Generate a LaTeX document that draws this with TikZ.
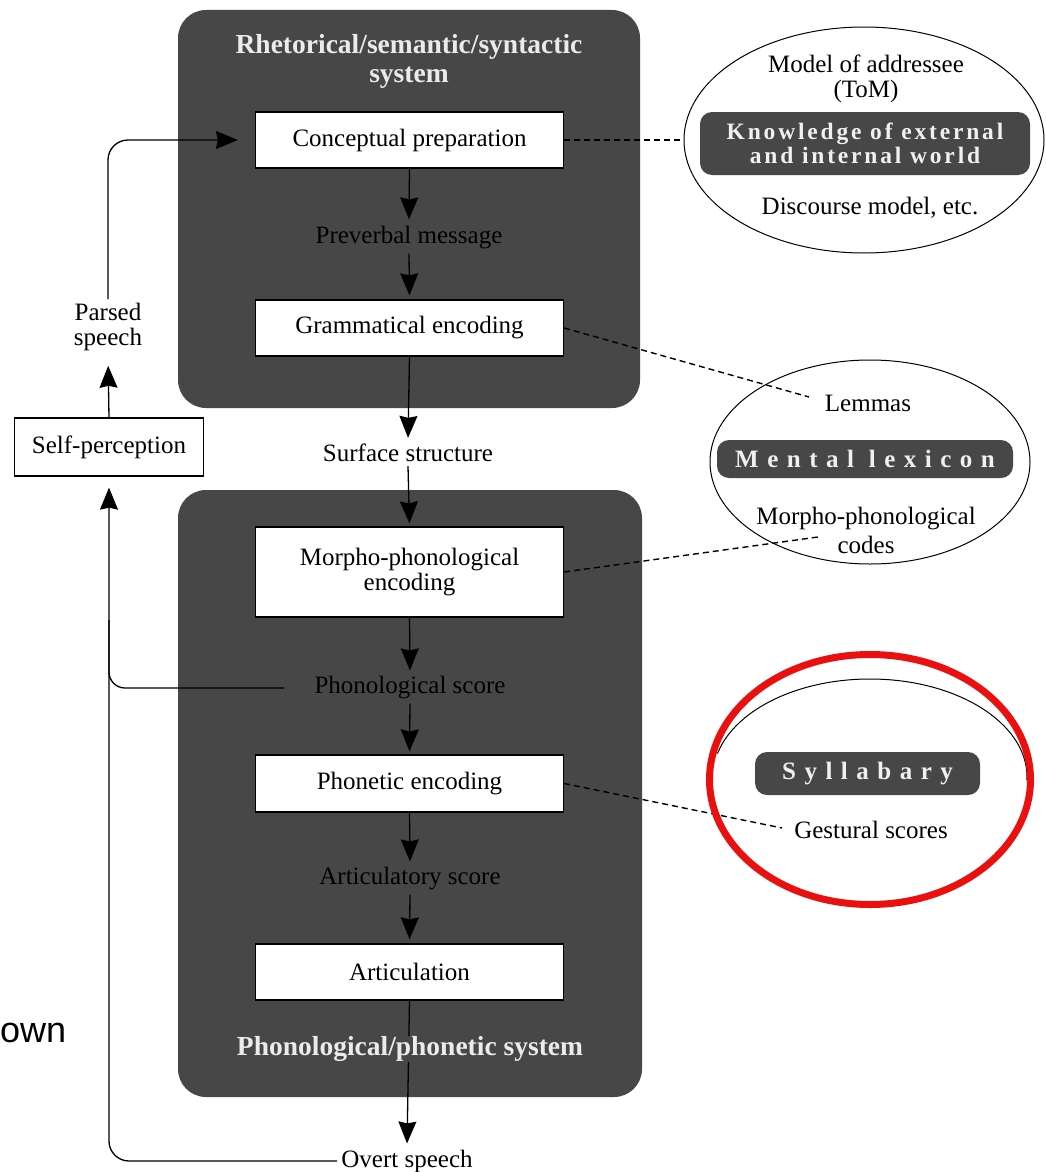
\documentclass[tikz,border=0pt]{standalone}
\usepackage{fontspec}
\setmainfont{Liberation Serif}
\newfontfamily\sansf{Liberation Sans}
\newfontfamily\wideK[LetterSpace=12]{Liberation Serif}
\newfontfamily\wideM[LetterSpace=34]{Liberation Serif}
\usetikzlibrary{shapes.geometric,arrows.meta,calc}
\definecolor{panelgray}{gray}{0.28}
\definecolor{chipgray}{gray}{0.28}
\definecolor{hlred}{RGB}{235,16,16}
\tikzset{
  panelbox/.style={fill=panelgray, rounded corners=28pt, inner sep=0pt},
  procbox/.style={draw=black, line width=1.3pt, fill=white, minimum width=308pt, inner sep=0pt, align=center, font=\fontsize{25}{25.5}\selectfont},
  lbl/.style={inner sep=4pt, align=center, font=\fontsize{25}{24.5}\selectfont},
  paneltitle/.style={inner sep=0pt, align=center, text=white!92!black, font=\bfseries\fontsize{27.5}{29}\selectfont},
  chip/.style={fill=chipgray, rounded corners=12pt, inner sep=0pt, align=center, text=white!94!black},
  conn/.style={line width=1.3pt, draw=black},
  arr/.style={conn, -{Stealth[length=22pt,width=18pt,inset=2pt]}},
  dashline/.style={line width=1.4pt, dash pattern=on 6pt off 4pt},
  ell/.style={ellipse, draw=black, line width=1pt, inner sep=0pt}
}
\begin{document}
\begin{tikzpicture}[x=1pt,y=-1pt]
\useasboundingbox (0,0) rectangle (1046,1172);
\fill[white] (0,0) rectangle (1046,1172);

% dark panels
\node[panelbox, minimum width=462pt, minimum height=398pt] (toppanel) at (409,209) {};
\node[panelbox, minimum width=464pt, minimum height=607pt] (botpanel) at (410,793.5) {};

\node[paneltitle] (toptitle) at (409,61) {Rhetorical/semantic/syntactic\\system};

% process boxes
\node[procbox, minimum height=56pt] (cp) at (409.5,140) {Conceptual preparation};
\node[procbox, minimum height=56pt] (ge) at (409.5,328) {Grammatical encoding};
\node[procbox, minimum height=90pt] (mpe) at (409.5,572) {Morpho-phonological\\encoding};
\node[procbox, minimum height=57pt] (pe) at (409.5,783.5) {Phonetic encoding};
\node[procbox, minimum height=56pt] (art) at (409.5,972) {Articulation};

% intermediate labels
\node[lbl] (pm) at (409,238) {Preverbal message};
\node[lbl] (ss) at (408,453) {Surface structure};
\node[lbl] (ps) at (410,688) {Phonological score};
\node[lbl] (as) at (410,879) {Articulatory score};
\node[lbl] (os) at (407,1161) {Overt speech};

% main column arrows
\draw[arr, shorten >=3pt] (cp.south) -- (pm.north);
\draw[arr, shorten >=4pt] (pm.south) -- (ge.north);
\draw[arr, shorten >=2pt] (ge.south) -- (ss.north);
\draw[arr, shorten >=3pt] (ss.south) -- (mpe.north);
\draw[arr, shorten >=2pt] (mpe.south) -- (ps.north);
\draw[arr, shorten >=3pt] (ps.south) -- (pe.north);
\draw[arr, shorten >=2pt] (pe.south) -- (as.north);
\draw[arr, shorten >=4pt] (as.south) -- (art.north);
\draw[arr, shorten >=2pt] (art.south) -- (os.north);

\node[paneltitle, fill=panelgray] (bottitle) at (410,1049) {Phonological/phonetic system};

% self-monitoring loop
\node[draw=black, line width=1.3pt, fill=white, minimum width=189pt, minimum height=58pt, inner sep=0pt, font=\fontsize{25}{25}\selectfont] (sp) at (109,447) {Self-perception};
\node[lbl] (parsed) at (108,327) {Parsed\\speech};
\coordinate (merge) at (109,620);
\draw[arr, rounded corners=20pt, shorten >=11pt] (os.west) -| (sp.south);
\draw[conn, rounded corners=16pt, shorten <=26pt] (ps.west) -| (merge);
\draw[arr, shorten >=11pt] (sp.north) -- (parsed.south);
\draw[arr, rounded corners=20pt, shorten >=17pt] (parsed.north) |- (cp.west);

% knowledge ellipse
\node[ell, minimum width=360pt, minimum height=226pt] (world) at (864,140) {};
\node[lbl] (addr) at (866,79) {Model of addressee\\(ToM)};
\node[chip, minimum width=330pt, minimum height=63pt, font=\wideK\bfseries\fontsize{23.5}{24}\selectfont] (know) at (865,143.5) {Knowledge of external\\and internal world};
\node[lbl] (disc) at (870,208) {Discourse model, etc.};
\draw[dashline] (cp.east) -- (world);

% mental lexicon ellipse
\node[ell, minimum width=320pt, minimum height=204pt] (lex) at (870,462) {};
\node[lbl] (lemmas) at (868,403) {Lemmas};
\node[chip, minimum width=296pt, minimum height=38pt, font=\wideM\bfseries\fontsize{25}{25}\selectfont] (mlex) at (865,459) {Mental lexicon};
\node[lbl, font=\fontsize{25}{29}\selectfont] (codes) at (866,530) {Morpho-phonological\\codes};
\coordinate (lemin) at (809,397);
\coordinate (codin) at (818,537);
\draw[dashline] (ge.east) -- (lemin);
\draw[dashline] (mpe.east) -- (codin);

% syllabary
\begin{scope}
  \clip (700,600) -- (1046,600) -- (1046,782) -- (700,752) -- cycle;
  \draw[line width=1pt] (870,777) ellipse [x radius=157pt, y radius=98pt];
\end{scope}
\node[chip, minimum width=225pt, minimum height=43pt, font=\wideM\bfseries\fontsize{25}{25}\selectfont] (syl) at (867.5,773.5) {Syllabary};
\node[lbl] (gest) at (871,830) {Gestural scores};
\coordinate (gesin) at (782,828);
\draw[dashline] (pe.east) -- (gesin);
\draw[hlred, line width=7pt] (870,779.5) ellipse [x radius=160.5pt, y radius=125pt];

% stray caption fragment
\node[anchor=west, inner sep=0pt, font=\sansf\fontsize{36}{36}\selectfont] (own) at (0,1033) {own};
\end{tikzpicture}
\end{document}
